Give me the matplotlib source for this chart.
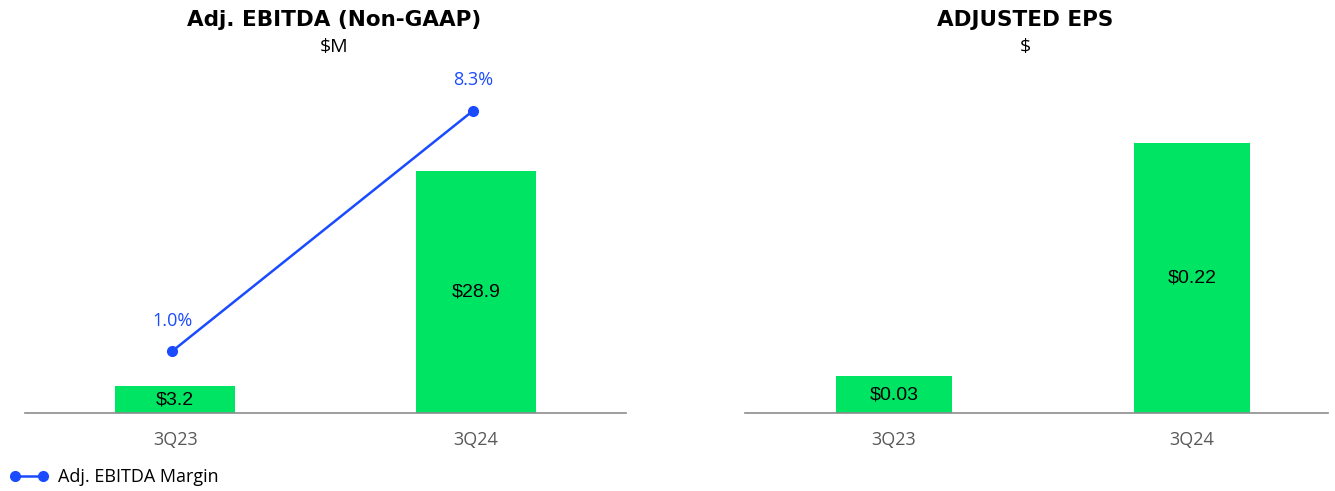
import matplotlib.pyplot as plt

plt.rcParams['font.family'] = ['Open Sans', 'DejaVu Sans']

quarters = ['3Q23', '3Q24']
ebitda = [3.2, 28.9]
ebitda_labels = ['$3.2', '$28.9']
margin = [1.0, 8.3]
margin_labels = ['1.0%', '8.3%']
eps = [0.03, 0.22]
eps_labels = ['$0.03', '$0.22']

green = '#00E463'
blue = '#1A4BFF'
axis_grey = '#8C8C8C'
tick_grey = '#595959'
value_font = ['Liberation Sans', 'DejaVu Sans']
title_font = ['DejaVu Sans']

fig = plt.figure(figsize=(13.35, 4.91), dpi=100)

# left panel: adj. EBITDA bars + margin line
ax1 = fig.add_axes([25 / 1335, 78 / 491, 601 / 1335, 353 / 491])
x = range(len(quarters))
bars = ax1.bar(x, ebitda, width=0.4, color=green, zorder=2)
ax1.set_xlim(-0.5, 1.5)
ax1.set_ylim(0, 42.2)
for b, lab in zip(bars, ebitda_labels):
    ax1.text(b.get_x() + b.get_width() / 2, b.get_height() / 2, lab,
             ha='center', va='center', fontsize=14, color='black', family=value_font)

ax2 = ax1.twinx()
ax2.set_ylim(-0.88, 9.85)
ax2.plot([xi - 0.01 for xi in x], margin, color=blue, lw=1.8, marker='o', markersize=7,
         label='Adj. EBITDA Margin', zorder=3)
for xi, v, lab in zip(x, margin, margin_labels):
    ax2.annotate(lab, (xi - 0.01, v), xytext=(0, 22), textcoords='offset points',
                 ha='center', va='center', fontsize=13, color=blue)

# right panel: adjusted EPS
ax3 = fig.add_axes([745 / 1335, 78 / 491, 583 / 1335, 353 / 491])
bars = ax3.bar(x, eps, width=0.39, color=green, zorder=2)
ax3.set_xlim(-0.5, 1.457)
ax3.set_ylim(0, 0.288)
for b, lab in zip(bars, eps_labels):
    ax3.text(b.get_x() + b.get_width() / 2, b.get_height() / 2, lab,
             ha='center', va='center', fontsize=14, color='black', family=value_font)

for ax in (ax1, ax2, ax3):
    for s in ('top', 'right', 'left'):
        ax.spines[s].set_visible(False)
    ax.set_yticks([])
for ax in (ax1, ax3):
    ax.spines['bottom'].set_color(axis_grey)
    ax.spines['bottom'].set_linewidth(1.2)
    ax.set_xticks(list(x))
    ax.set_xticklabels(quarters)
    ax.tick_params(axis='x', length=0, pad=13, labelsize=13, labelcolor=tick_grey)
ax2.spines['bottom'].set_visible(False)

fig.text(334 / 1335, 1 - 20 / 491, 'Adj. EBITDA (Non-GAAP)', ha='center', va='center',
         fontsize=15.5, fontweight='bold', family=title_font)
fig.text(334 / 1335, 1 - 47 / 491, '$M', ha='center', va='center', fontsize=14)
fig.text(1025 / 1335, 1 - 20 / 491, 'ADJUSTED EPS', ha='center', va='center',
         fontsize=15.5, fontweight='bold', family=title_font)
fig.text(1025 / 1335, 1 - 47 / 491, '$', ha='center', va='center', fontsize=14)

fig.legend(handles=ax2.get_lines(), loc='center left', bbox_to_anchor=(10 / 1335, 1 - 477 / 491),
           frameon=False, fontsize=13, handlelength=2.1, borderaxespad=0, borderpad=0,
           handletextpad=0.55, numpoints=2)

fig.savefig('out.png', dpi=100)
